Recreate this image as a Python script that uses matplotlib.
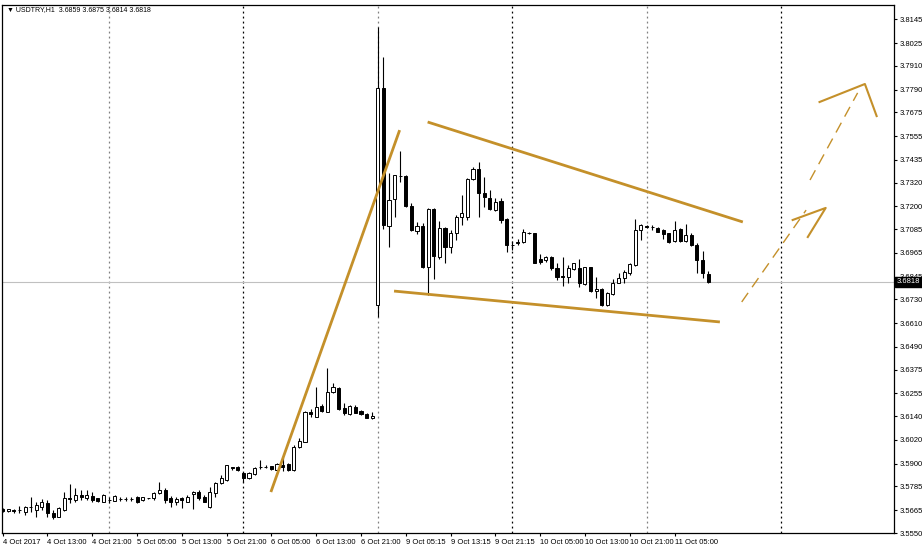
import matplotlib
matplotlib.use('Agg')
import matplotlib.pyplot as plt
import matplotlib.transforms as mtransforms

plt.rcParams['font.family'] = ['Liberation Sans', 'DejaVu Sans']

#---------------------------------------------------------------------------
#                         DATA  (USDTRY H1 candles)
#---------------------------------------------------------------------------

opens = [3.5672, 3.5661, 3.5667, 3.5667, 3.5656, 3.5682, 3.5667, 3.5682, 3.5702, 3.5651,
         3.5631, 3.5667, 3.5727, 3.5717, 3.5742, 3.5727, 3.5737, 3.5727, 3.5707, 3.5717,
         3.5712, 3.5722, 3.5722, 3.5722, 3.5732, 3.5717, 3.5727, 3.5727, 3.5752, 3.5767,
         3.5727, 3.5707, 3.5727, 3.5707, 3.5747, 3.5757, 3.5732, 3.5682, 3.5752, 3.5803,
         3.5818, 3.5884, 3.5884, 3.5853, 3.5828, 3.5848, 3.5884, 3.5884, 3.5889, 3.5869,
         3.5894, 3.5899, 3.5869, 3.5985, 3.6010, 3.6161, 3.6136, 3.6192, 3.6161, 3.6262,
         3.6283, 3.6182, 3.6151, 3.6187, 3.6166, 3.6151, 3.6131, 3.6702, 3.7798, 3.7101,
         3.7237, 3.7353, 3.7353, 3.7202, 3.7075, 3.7101, 3.6894, 3.7187, 3.6944, 3.7091,
         3.6995, 3.7065, 3.7146, 3.7146, 3.7338, 3.7389, 3.7267, 3.7242, 3.7182, 3.7227,
         3.7136, 3.7005, 3.7015, 3.7020, 3.7065, 3.7065, 3.6934, 3.6929, 3.6944, 3.6889,
         3.6848, 3.6843, 3.6884, 3.6889, 3.6808, 3.6894, 3.6772, 3.6783, 3.6702, 3.6757,
         3.6813, 3.6838, 3.6863, 3.6904, 3.7081, 3.7101, 3.7096, 3.7091, 3.7081, 3.7065,
         3.7025, 3.7086, 3.7025, 3.7055, 3.7005, 3.6929, 3.6859]
highs = [3.5677, 3.5667, 3.5672, 3.5687, 3.5687, 3.5732, 3.5707, 3.5722, 3.5717, 3.5667,
         3.5682, 3.5757, 3.5798, 3.5778, 3.5767, 3.5767, 3.5757, 3.5727, 3.5747, 3.5732,
         3.5742, 3.5732, 3.5732, 3.5732, 3.5737, 3.5722, 3.5727, 3.5757, 3.5808, 3.5778,
         3.5737, 3.5732, 3.5732, 3.5742, 3.5762, 3.5767, 3.5742, 3.5783, 3.5808, 3.5843,
         3.5894, 3.5884, 3.5889, 3.5858, 3.5858, 3.5884, 3.5919, 3.5894, 3.5889, 3.5904,
         3.5934, 3.5904, 3.5995, 3.6030, 3.6166, 3.6177, 3.6288, 3.6202, 3.6384, 3.6308,
         3.6288, 3.6207, 3.6197, 3.6197, 3.6172, 3.6156, 3.6161, 3.8106, 3.7954, 3.7368,
         3.7358, 3.7479, 3.7358, 3.7217, 3.7121, 3.7116, 3.7192, 3.7192, 3.7126, 3.7096,
         3.7081, 3.7156, 3.7257, 3.7343, 3.7399, 3.7424, 3.7348, 3.7283, 3.7242, 3.7242,
         3.7141, 3.7025, 3.7035, 3.7086, 3.7070, 3.7065, 3.6959, 3.6949, 3.6949, 3.6914,
         3.6944, 3.6904, 3.6914, 3.6934, 3.6894, 3.6894, 3.6843, 3.6788, 3.6767, 3.6833,
         3.6863, 3.6878, 3.6914, 3.7136, 3.7111, 3.7106, 3.7106, 3.7096, 3.7086, 3.7065,
         3.7126, 3.7091, 3.7111, 3.7065, 3.7015, 3.6974, 3.6875]
lows = [3.5656, 3.5656, 3.5651, 3.5651, 3.5641, 3.5656, 3.5631, 3.5667, 3.5631, 3.5621,
        3.5631, 3.5661, 3.5702, 3.5707, 3.5717, 3.5717, 3.5707, 3.5707, 3.5707, 3.5702,
        3.5712, 3.5712, 3.5712, 3.5712, 3.5702, 3.5712, 3.5722, 3.5717, 3.5747, 3.5702,
        3.5682, 3.5692, 3.5677, 3.5707, 3.5672, 3.5717, 3.5707, 3.5677, 3.5732, 3.5798,
        3.5813, 3.5869, 3.5863, 3.5808, 3.5823, 3.5843, 3.5874, 3.5879, 3.5869, 3.5869,
        3.5863, 3.5863, 3.5863, 3.5980, 3.6010, 3.6136, 3.6136, 3.6161, 3.6161, 3.6257,
        3.6172, 3.6146, 3.6146, 3.6156, 3.6146, 3.6131, 3.6126, 3.6641, 3.7086, 3.6995,
        3.7146, 3.7323, 3.7197, 3.7075, 3.7060, 3.6889, 3.6752, 3.6833, 3.6934, 3.6914,
        3.6964, 3.7030, 3.7106, 3.7131, 3.7333, 3.7146, 3.7197, 3.7182, 3.7176, 3.7116,
        3.6969, 3.6980, 3.7005, 3.7015, 3.7060, 3.6914, 3.6909, 3.6919, 3.6878, 3.6828,
        3.6798, 3.6813, 3.6878, 3.6793, 3.6803, 3.6767, 3.6737, 3.6697, 3.6697, 3.6752,
        3.6813, 3.6813, 3.6853, 3.6899, 3.7030, 3.7091, 3.7081, 3.7070, 3.7035, 3.7015,
        3.7020, 3.7020, 3.7020, 3.7000, 3.6863, 3.6838, 3.6814]
closes = [3.5661, 3.5672, 3.5661, 3.5667, 3.5682, 3.5682, 3.5692, 3.5707, 3.5651, 3.5631,
          3.5677, 3.5727, 3.5722, 3.5742, 3.5732, 3.5742, 3.5717, 3.5712, 3.5742, 3.5717,
          3.5737, 3.5722, 3.5722, 3.5722, 3.5707, 3.5732, 3.5727, 3.5752, 3.5767, 3.5717,
          3.5707, 3.5722, 3.5717, 3.5732, 3.5757, 3.5727, 3.5707, 3.5757, 3.5803, 3.5828,
          3.5894, 3.5879, 3.5869, 3.5828, 3.5853, 3.5879, 3.5884, 3.5884, 3.5874, 3.5899,
          3.5884, 3.5869, 3.5985, 3.6015, 3.6161, 3.6151, 3.6187, 3.6166, 3.6262, 3.6288,
          3.6177, 3.6156, 3.6192, 3.6156, 3.6151, 3.6131, 3.6141, 3.7798, 3.7106, 3.7232,
          3.7358, 3.7353, 3.7202, 3.7081, 3.7101, 3.6894, 3.7187, 3.6949, 3.7091, 3.6995,
          3.7065, 3.7146, 3.7166, 3.7338, 3.7389, 3.7267, 3.7247, 3.7187, 3.7222, 3.7131,
          3.7005, 3.7005, 3.7020, 3.7070, 3.7065, 3.6914, 3.6919, 3.6944, 3.6889, 3.6843,
          3.6843, 3.6889, 3.6914, 3.6813, 3.6894, 3.6772, 3.6783, 3.6702, 3.6762, 3.6813,
          3.6838, 3.6868, 3.6909, 3.7081, 3.7106, 3.7096, 3.7096, 3.7070, 3.7060, 3.7020,
          3.7081, 3.7025, 3.7055, 3.7005, 3.6929, 3.6863, 3.6818]

time_labels = ['4 Oct 2017', '4 Oct 13:00', '4 Oct 21:00', '5 Oct 05:00', '5 Oct 13:00',
               '5 Oct 21:00', '6 Oct 05:00', '6 Oct 13:00', '6 Oct 21:00', '9 Oct 05:15',
               '9 Oct 13:15', '9 Oct 21:15', '10 Oct 05:00', '10 Oct 13:00', '10 Oct 21:00',
               '11 Oct 05:00']
time_label_bars = [0, 8, 16, 24, 32, 40, 48, 56, 64, 72, 80, 88, 96, 104, 112, 120]
day_separators = [19, 43, 67, 91, 115, 139]

price_ticks = [3.8145, 3.8025, 3.7910, 3.7790, 3.7675, 3.7555, 3.7435, 3.7320, 3.7200,
               3.7085, 3.6965, 3.6845, 3.6730, 3.6610, 3.6490, 3.6375, 3.6255, 3.6140,
               3.6020, 3.5900, 3.5785, 3.5665, 3.5550]
bid = 3.6818
header = "\u25bc USDTRY,H1  3.6859 3.6875 3.6814 3.6818"

# hand drawn objects, anchors as (bar, price)
impulse_line = [(47.9, 3.5757), (70.9, 3.7585)]
channel_top = [(75.9, 3.7626), (132.2, 3.7121)]
channel_bottom = [(69.9, 3.6772), (128.1, 3.6616)]
path_low = [(132.0, 3.6717), (143.5, 3.7181)]
arrow_low = [(141.1, 3.7131), (147.0, 3.7192), (143.8, 3.7045)]
path_high = [(144.2, 3.7333), (152.7, 3.7773)]
arrow_high = [(145.9, 3.7727), (154.0, 3.7818), (156.1, 3.7656)]

#---------------------------------------------------------------------------
#                         PLOT
#---------------------------------------------------------------------------

fig = plt.figure(figsize=(9.22, 5.48), dpi=100)
ax = fig.add_axes([2/922, 15/548, 892/922, 528/548])

gold = '#C4902A'

# day separators
for k, d in enumerate(day_separators):
    ax.axvline(d, color='#000000' if k % 2 else '#808080', linestyle=(0, (1.5, 2.5)),
               linewidth=0.9, zorder=1)

# bid line
ax.axhline(bid, color='#C0C0C0', linewidth=0.8, zorder=1)

# candles
n = len(opens)
xs = list(range(n))
ax.vlines(xs, lows, highs, color='black', linewidth=0.8, zorder=2)
for i in range(n):
    o, c = opens[i], closes[i]
    up = c >= o
    ax.bar(i, abs(c - o), bottom=min(o, c), width=0.55,
           color='white' if up else 'black', edgecolor='black', linewidth=0.7, zorder=3)

# drawn objects
for line in [impulse_line, channel_top, channel_bottom]:
    ax.plot([p[0] for p in line], [p[1] for p in line], color=gold, linewidth=2,
            solid_capstyle='butt', zorder=4)
for line in [path_low, path_high]:
    ax.plot([p[0] for p in line], [p[1] for p in line], color=gold, linewidth=1,
            linestyle=(0, (8, 5)), zorder=4)
for line in [arrow_low, arrow_high]:
    ax.plot([p[0] for p in line], [p[1] for p in line], color=gold, linewidth=1.5, zorder=4)

ax.set_xlim(-0.125, 159.2)
ax.set_ylim(3.5550, 3.8217)

ax.yaxis.tick_right()
ax.set_yticks(price_ticks)
ax.set_yticklabels(['%.4f' % v for v in price_ticks])
ax.set_xticks(time_label_bars)
ax.set_xticklabels(time_labels)
for lab in ax.get_xticklabels():
    lab.set_horizontalalignment('left')
ax.tick_params(axis='both', labelsize=5.5, length=2.5, width=0.8, pad=1.5, color='black')
ax.tick_params(axis='x', pad=2)
for s in ax.spines.values():
    s.set_linewidth(0.9)
    s.set_color('black')

# current price tag on the axis
trans = mtransforms.blended_transform_factory(ax.transAxes, ax.transData)
ax.text(1.003, bid, '3.6818', transform=trans, ha='left', va='center', color='white',
        fontsize=5.5, clip_on=False, zorder=6,
        bbox=dict(boxstyle='square,pad=0.2', facecolor='black', edgecolor='black'))

fig.text(7/922, 1 - 10/548, header, fontsize=5.0, va='center', ha='left')

fig.savefig('out.png', dpi=100)
